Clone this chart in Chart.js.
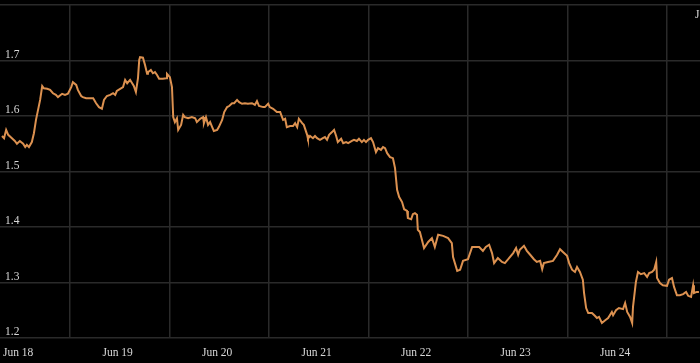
<!DOCTYPE html>
<html lang="en">
<head>
<meta charset="utf-8">
<style>
  html, body { margin: 0; padding: 0; background: #000; }
  #wrap { width: 700px; height: 363px; }
</style>
</head>
<body>
<div id="wrap"><canvas id="myChart"></canvas></div>
<script src="https://cdn.jsdelivr.net/npm/chart.js"></script>
<script>
// hours since Jun 18 00:00
const hours = [7.6, 8.1, 8.6, 9.1, 10.0, 10.7, 11.2, 11.9, 12.7, 13.2, 13.6, 14.1, 14.8, 15.3, 15.8, 16.3, 16.8, 17.3, 17.7, 18.5,
  19.2, 19.9, 20.6, 21.1, 22.1, 22.8, 23.5, 24.3, 24.7, 25.5, 25.9, 26.7, 27.1, 27.9, 28.6, 29.6, 30.3, 31.0, 31.7, 32.2,
  32.9, 33.7, 34.4, 34.9, 35.3, 36.1, 36.8, 37.3, 37.8, 38.5, 39.0, 39.4, 39.9, 40.4, 40.7, 40.9, 41.6, 42.1, 42.6, 42.8,
  43.5, 44.0, 44.5, 45.0, 45.5, 46.4, 47.2, 47.4, 48.1, 48.6, 48.9, 49.3, 49.8, 50.1, 50.8, 51.3, 51.7, 52.5, 53.4, 54.2,
  54.6, 55.4, 56.1, 56.3, 56.8, 57.3, 57.8, 58.3, 58.7, 59.5, 59.9, 60.7, 61.2, 61.9, 62.4, 63.1, 63.6, 64.3, 64.8, 65.5,
  66.2, 66.9, 67.9, 68.6, 69.1, 69.6, 70.6, 71.0, 71.8, 72.2, 73.0, 73.9, 74.7, 75.4, 75.9, 76.3, 77.1, 77.8, 78.3, 78.8,
  79.2, 80.0, 80.4, 81.2, 81.4, 81.9, 82.6, 83.1, 83.6, 84.3, 85.0, 85.5, 86.0, 86.5, 87.2, 87.7, 88.2, 88.6, 89.4, 89.9,
  90.6, 91.1, 92.0, 92.5, 93.2, 93.7, 94.4, 94.9, 95.4, 95.9, 96.6, 97.1, 97.8, 98.3, 99.0, 99.5, 100.0, 100.5, 101.2, 101.9,
  102.4, 102.9, 103.4, 104.1, 104.6, 105.3, 105.5, 106.3, 106.7, 107.2, 107.7, 107.9, 108.4, 109.4, 110.4, 111.3, 112.0, 112.8, 114.0, 115.2,
  116.1, 116.4, 117.4, 118.1, 118.8, 120.0, 121.0, 121.7, 122.7, 123.6, 124.3, 125.1, 125.8, 126.3, 127.2, 128.2, 128.9, 129.7, 130.9, 131.6,
  132.1, 132.5, 133.5, 134.2, 135.0, 135.9, 136.6, 137.4, 137.9, 138.3, 139.3, 140.5, 141.5, 142.2, 142.9, 143.9, 144.4, 145.1, 145.8, 146.3,
  147.0, 147.7, 148.0, 148.5, 149.0, 149.9, 150.6, 151.1, 151.6, 152.3, 153.1, 153.8, 154.7, 155.0, 155.7, 156.4, 157.4, 157.9, 158.4, 159.1,
  159.6, 159.8, 160.5, 161.0, 161.7, 162.5, 163.2, 163.7, 164.4, 164.9, 165.4, 165.6, 166.3, 167.0, 168.0, 168.5, 169.2, 169.7, 170.4, 171.1,
  171.9, 172.6, 173.1, 173.8, 174.3, 174.5, 175.2, 175.7];

const rate = [1.564, 1.560, 1.575, 1.566, 1.560, 1.555, 1.550, 1.555, 1.550, 1.544, 1.548, 1.544, 1.553, 1.569, 1.593, 1.611, 1.629, 1.654, 1.650, 1.649,
  1.647, 1.641, 1.638, 1.634, 1.640, 1.638, 1.640, 1.652, 1.661, 1.656, 1.647, 1.636, 1.634, 1.632, 1.632, 1.632, 1.623, 1.616, 1.613, 1.629,
  1.636, 1.638, 1.641, 1.638, 1.645, 1.649, 1.652, 1.665, 1.659, 1.665, 1.659, 1.654, 1.643, 1.668, 1.701, 1.706, 1.705, 1.692, 1.676, 1.679,
  1.683, 1.677, 1.679, 1.674, 1.667, 1.667, 1.668, 1.676, 1.670, 1.652, 1.598, 1.589, 1.596, 1.575, 1.584, 1.602, 1.598, 1.596, 1.598, 1.596,
  1.589, 1.595, 1.598, 1.587, 1.598, 1.584, 1.589, 1.580, 1.573, 1.575, 1.580, 1.593, 1.607, 1.616, 1.618, 1.623, 1.623, 1.629, 1.625, 1.622,
  1.623, 1.622, 1.623, 1.620, 1.627, 1.618, 1.616, 1.616, 1.622, 1.616, 1.613, 1.607, 1.607, 1.593, 1.595, 1.580, 1.582, 1.582, 1.587, 1.580,
  1.595, 1.587, 1.584, 1.566, 1.559, 1.564, 1.560, 1.564, 1.560, 1.557, 1.560, 1.562, 1.557, 1.566, 1.571, 1.575, 1.564, 1.553, 1.559, 1.551,
  1.553, 1.551, 1.555, 1.557, 1.555, 1.559, 1.553, 1.557, 1.553, 1.557, 1.560, 1.553, 1.535, 1.542, 1.539, 1.544, 1.542, 1.533, 1.526, 1.524,
  1.506, 1.467, 1.454, 1.445, 1.432, 1.429, 1.416, 1.414, 1.423, 1.425, 1.422, 1.395, 1.391, 1.362, 1.373, 1.380, 1.364, 1.386, 1.384, 1.380,
  1.371, 1.346, 1.321, 1.323, 1.339, 1.342, 1.364, 1.364, 1.364, 1.357, 1.364, 1.368, 1.353, 1.335, 1.344, 1.337, 1.335, 1.342, 1.353, 1.362,
  1.350, 1.359, 1.366, 1.357, 1.350, 1.342, 1.337, 1.339, 1.324, 1.335, 1.337, 1.339, 1.350, 1.360, 1.355, 1.348, 1.335, 1.323, 1.319, 1.328,
  1.319, 1.305, 1.281, 1.254, 1.245, 1.245, 1.240, 1.236, 1.238, 1.227, 1.232, 1.236, 1.247, 1.241, 1.250, 1.254, 1.252, 1.263, 1.247, 1.238,
  1.227, 1.256, 1.301, 1.319, 1.315, 1.317, 1.310, 1.317, 1.319, 1.323, 1.337, 1.308, 1.299, 1.295, 1.294, 1.305, 1.308, 1.292, 1.277, 1.277,
  1.279, 1.283, 1.276, 1.274, 1.295, 1.281, 1.283, 1.283];

// day names; grid lines at midnight, labels near midday
const dayLabels = ['Jun 18', 'Jun 19', 'Jun 20', 'Jun 21', 'Jun 22', 'Jun 23', 'Jun 24'];
const yTicks = [1.2, 1.3, 1.4, 1.5, 1.6, 1.7, 1.8];

const points = hours.map((h, i) => ({ x: h, y: rate[i] }));
const gridColor = '#2a2a2a';
const textColor = '#d8d8d8';
const font = { family: 'Liberation Serif', size: 11.5 };
const LABEL_HOUR = 11.5;

// stray cut-off label at the top right
const cornerLabel = {
  id: 'cornerLabel',
  afterDraw(chart) {
    const ctx = chart.ctx;
    ctx.save();
    ctx.font = '11.5px "Liberation Serif"';
    ctx.fillStyle = textColor;
    ctx.textBaseline = 'middle';
    ctx.fillText('J', 695, 15);
    ctx.restore();
  }
};

const isMidnight = (v) => v % 24 === 0;

const config = {
  type: 'line',
  data: {
    datasets: [{
      data: points,
      borderColor: '#dc9150',
      borderWidth: 2,
      pointRadius: 0,
      tension: 0,
      fill: false
    }]
  },
  options: {
    responsive: true,
    maintainAspectRatio: false,
    animation: false,
    layout: { padding: { top: 5, left: 0, right: 0, bottom: 0 } },
    plugins: { legend: { display: false }, tooltip: { enabled: false } },
    scales: {
      x: {
        type: 'linear',
        min: 7.12,
        max: 175.96,
        border: { display: false },
        afterBuildTicks: (scale) => {
          const t = [];
          for (let d = 0; d < 7; d++) {
            t.push({ value: d * 24 + LABEL_HOUR });
            t.push({ value: (d + 1) * 24 });
          }
          scale.ticks = t;
        },
        afterFit: (scale) => {
          scale.height = 25;
          scale.paddingLeft = 0;
          scale.paddingRight = 0;
        },
        grid: {
          drawTicks: false,
          color: (ctx) => (ctx.tick && isMidnight(ctx.tick.value)) ? gridColor : 'transparent',
          lineWidth: 1.5
        },
        ticks: {
          autoSkip: false,
          maxRotation: 0,
          padding: 8,
          color: textColor,
          font: font,
          callback: (v) => isMidnight(v) ? '' : dayLabels[Math.floor(v / 24)]
        }
      },
      y: {
        type: 'linear',
        min: 1.2,
        max: 1.8,
        border: { display: false },
        afterBuildTicks: (scale) => {
          scale.ticks = yTicks.map(v => ({ value: v }));
        },
        afterFit: (scale) => {
          scale.width = 0;
          scale.paddingTop = 0;
          scale.paddingBottom = 0;
        },
        grid: { drawTicks: false, color: gridColor, lineWidth: 1.5 },
        ticks: {
          mirror: true,
          padding: 5,
          labelOffset: -6,
          color: textColor,
          font: font,
          callback: (v) => v >= 1.75 ? '' : v.toFixed(1)
        }
      }
    }
  },
  plugins: [cornerLabel]
};

const myChart = new Chart(document.getElementById('myChart'), config);
</script>
</body>
</html>
